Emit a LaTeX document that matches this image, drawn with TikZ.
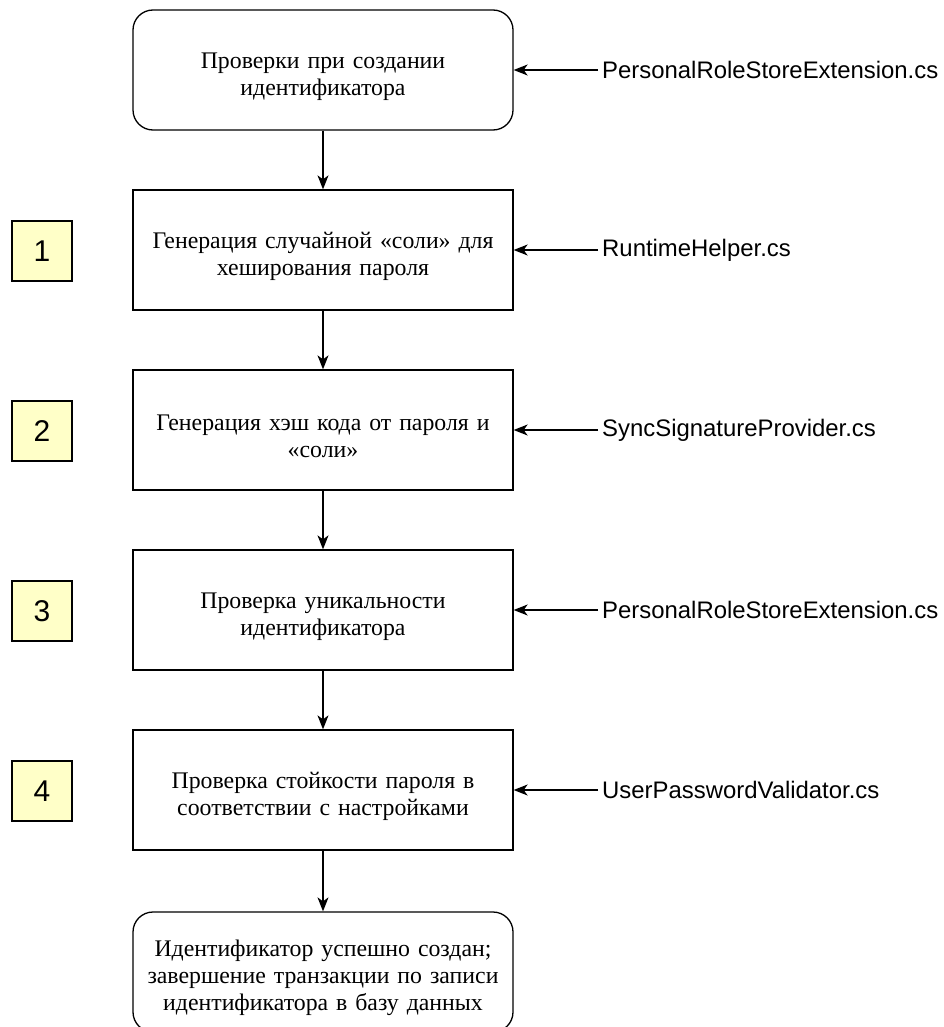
\documentclass[tikz,border=0pt]{standalone}
\usepackage{fontspec}
\setmainfont{Liberation Serif}
\newfontfamily\labfont{Liberation Sans}
\usetikzlibrary{arrows.meta}
\begin{document}
\begin{tikzpicture}[x=1pt,y=-1pt,
  stepbox/.style={draw, line width=1.3pt, minimum width=380pt, minimum height=120pt,
    align=center, font=\fontsize{23.8}{27}\selectfont, inner sep=0pt, text width=378pt,
    execute at begin node={\lineskiplimit=-100pt\rule{0pt}{29pt}}},
  roundbox/.style={stepbox, rounded corners=20pt},
  numbox/.style={draw, line width=1.3pt, fill={rgb,255:red,255;green,255;blue,200},
    minimum width=60pt, minimum height=60pt, inner sep=0pt,
    font=\labfont\fontsize{30}{32}\selectfont},
  lab/.style={anchor=west, inner xsep=4pt, inner ysep=0pt, font=\labfont\fontsize{23.9}{28}\selectfont},
  arr/.style={line width=1.3pt, -{Stealth[length=14pt,width=11pt,inset=4pt]}}
]
\useasboundingbox (0,0) rectangle (944,1027);
\node[roundbox] (b0) at (323,70) {Проверки при создании\\идентификатора};
\node[stepbox] (b1) at (323,250) {Генерация случайной «соли» для\\хеширования пароля};
\node[stepbox] (b2) at (323,430) {Генерация хэш кода от пароля и\\«соли»};
\node[stepbox] (b3) at (323,610) {Проверка уникальности\\идентификатора};
\node[stepbox] (b4) at (323,790) {Проверка стойкости пароля в\\соответствии с настройками};
\node[roundbox, minimum height=120pt] (b5) at (323,972) {Идентификатор успешно создан;\\завершение транзакции по записи\\идентификатора в базу данных};

\node[numbox] (n1) at (42,251) {1};
\node[numbox] (n2) at (42,431) {2};
\node[numbox] (n3) at (42,611) {3};
\node[numbox] (n4) at (42,791) {4};

\node[lab] (l0) at (598,70) {PersonalRoleStoreExtension.cs};
\node[lab] (l1) at (598,250) {RuntimeHelper.cs};
\node[lab] (l2) at (598,430) {SyncSignatureProvider.cs};
\node[lab] (l3) at (598,610) {PersonalRoleStoreExtension.cs};
\node[lab] (l4) at (598,790) {UserPasswordValidator.cs};

\foreach \i in {0,...,4} {\draw[arr] (l\i.west) -- (b\i.east);}
\draw[arr] (b0) -- (b1);
\draw[arr] (b1) -- (b2);
\draw[arr] (b2) -- (b3);
\draw[arr] (b3) -- (b4);
\draw[arr] (b4) -- (b5);
\end{tikzpicture}
\end{document}
